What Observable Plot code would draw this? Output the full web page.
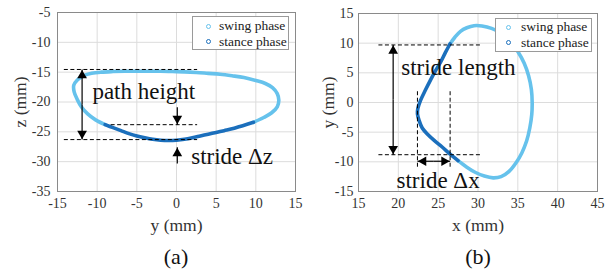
<!DOCTYPE html>
<html><head><meta charset="utf-8">
<script src="https://cdn.jsdelivr.net/npm/d3@7"></script>
<script src="https://cdn.jsdelivr.net/npm/@observablehq/plot@0.6"></script>
<style>
body{margin:0;background:#fff;}
#wrap{position:relative;width:616px;height:275px;font-family:"Liberation Serif","Times New Roman",serif;overflow:hidden;}
#wrap svg, #wrap svg text{font-family:"Liberation Serif","Times New Roman",serif;}
.panel{position:absolute;top:0;}
.legend{position:absolute;background:#fff;border:1px solid #9a9a9a;box-sizing:border-box;font-size:13.5px;color:#222;}
.legend .mk{position:absolute;width:3px;height:3px;border-radius:50%;border:1px solid;}
.legend .lb{position:absolute;white-space:nowrap;line-height:16px;}
.cap{position:absolute;font-size:22px;color:#111;transform:translate(-50%,-50%);white-space:nowrap;}
</style></head>
<body>
<div id="wrap">
  <div id="pa" class="panel" style="left:0"></div>
  <div id="pb" class="panel" style="left:308px"></div>
</div>
<script>
// ---------- data ----------
const ticksA_x = [-15,-10,-5,0,5,10,15];
const ticksA_z = [-35,-30,-25,-20,-15,-10,-5];
const ticksB_x = [15,20,25,30,35,40,45];
const ticksB_y = [-15,-10,-5,0,5,10,15];
const legendLabels = ["swing phase","stance phase"];
const captions = ["(a)","(b)"];

// panel (a): [y, z] in mm
const swingA = [[9.7,-23.4],[11,-22.6],[12,-21.8],[12.7,-20.8],[12.9,-19.7],[12.7,-18.6],[12.1,-17.6],[11.2,-16.9],[10,-16.4],[8.5,-15.9],[7,-15.6],[5.5,-15.35],[4,-15.2],[2.5,-15.05],[1,-14.95],[-0.5,-14.9],[-2,-14.85],[-3.5,-14.85],[-5,-14.85],[-6.5,-14.85],[-8,-14.9],[-9.5,-15.0],[-10.7,-15.2],[-11.7,-15.6],[-12.5,-16.3],[-12.95,-17.2],[-12.9,-18.3],[-12.5,-19.6],[-12.0,-20.8],[-11.2,-22.0],[-10.2,-23.0],[-9,-23.8]];
const stanceA = [[-9,-23.8],[-8,-24.3],[-7,-24.8],[-6,-25.3],[-5,-25.7],[-4,-26.0],[-3,-26.25],[-2,-26.4],[-1,-26.45],[0,-26.4],[1,-26.25],[2,-26.0],[3,-25.7],[4,-25.4],[5,-25.1],[6,-24.8],[7,-24.5],[8,-24.1],[9,-23.7],[9.7,-23.4]];

// panel (b): [x, y] in mm
const swingB = [[27.5,-9.8],[28.6,-10.9],[29.7,-11.8],[30.8,-12.4],[31.9,-12.7],[32.9,-12.5],[33.9,-11.6],[34.8,-10.1],[35.5,-8.5],[36.1,-6.5],[36.5,-4.3],[36.75,-2.0],[36.8,0],[36.7,2.2],[36.35,4.5],[35.8,6.6],[35.0,8.6],[34.0,10.4],[32.9,11.7],[31.7,12.5],[30.5,12.9],[29.5,12.95],[28.6,12.6],[27.8,12.0],[27.1,11.0],[26.5,9.9]];
const stanceB = [[26.5,9.9],[25.9,8.4],[25.3,6.8],[24.6,5.2],[24.0,3.7],[23.4,2.1],[22.8,0.4],[22.45,-1.0],[22.4,-1.9],[22.6,-3.0],[23.0,-4.3],[23.7,-5.4],[24.5,-6.4],[25.5,-7.5],[26.5,-8.7],[27.5,-9.8]];

// annotations (data units)
const dashA = [{x1:-14.2,x2:2.6,y1:-14.55,y2:-14.55},{x1:-8.3,x2:2.6,y1:-23.8,y2:-23.8},{x1:-14.2,x2:2.6,y1:-26.3,y2:-26.3}];
const arrowsA = [{x1:-11.9,y1:-20.4,x2:-11.9,y2:-14.55,dir:"up"},{x1:-11.9,y1:-20.4,x2:-11.9,y2:-26.3,dir:"down"},{x1:0.1,y1:-20.9,x2:0.1,y2:-23.8,dir:"down"},{x1:0.1,y1:-30.3,x2:0.1,y2:-27.6,dir:"up"}];
const textA = [{x:-10.6,y:-18.2,t:"path height"},{x:1.85,y:-29.1,t:"stride Δz"}];

const dashB = [{x1:17.5,x2:30.3,y1:9.7,y2:9.7},{x1:17.5,x2:30.3,y1:-8.8,y2:-8.8},{x1:22.4,x2:22.4,y1:1.9,y2:-10.9},{x1:26.5,x2:26.5,y1:1.9,y2:-10.9}];
const arrowsB = [{x1:19.35,y1:0.5,x2:19.35,y2:9.7,dir:"up"},{x1:19.35,y1:0.5,x2:19.35,y2:-8.8,dir:"down"},{x1:24.45,y1:-9.9,x2:22.4,y2:-9.9,dir:"left"},{x1:24.45,y1:-9.9,x2:26.5,y2:-9.9,dir:"right"}];
const textB = [{x:20.36,y:5.96,t:"stride length"},{x:19.77,y:-13.2,t:"stride Δx"}];

// ---------- styles ----------
const SWING = "#66c2ec";
const STANCE = "#1b6fbc";
const FONT = '"Liberation Serif","Times New Roman",serif';

function heads(arrows){
  const off = {up:[0,6,0],down:[0,-6,180],left:[6,0,270],right:[-6,0,90]};
  return ["up","down","left","right"].map(dir => Plot.dot(arrows.filter(a=>a.dir===dir), {
    x:"x2", y:"y2", symbol:"triangle", r:3.6, fill:"#000", stroke:"none",
    rotate: off[dir][2], dx: off[dir][0], dy: off[dir][1]
  }));
}

function panel({xd, yd, xt, yt, swing, stance, dash, arrows, texts, xlabel, ylabel, ml, mr, mt, ylabDx, yPad}){
  return Plot.plot({
    width:308, height:240, marginLeft:ml, marginRight:mr, marginTop:mt, marginBottom:240-191,
    x:{domain:xd}, y:{domain:yd},
    style:{fontFamily:FONT, fontSize:"14px", color:"#333", background:"#fff", overflow:"visible"},
    marks:[
      Plot.gridX(xt, {stroke:"#dcdcdc", strokeOpacity:1}),
      Plot.gridY(yt, {stroke:"#dcdcdc", strokeOpacity:1}),
      Plot.frame({stroke:"#8a8a8a"}),
      Plot.axisX(xt, {tickSize:0, tickPadding:7, tickFormat:d=>String(d), label:null, fill:"#333", fontSize:14}),
      Plot.axisY(yt, {tickSize:0, tickPadding:yPad, tickFormat:d=>String(d), label:null, fill:"#333", fontSize:14}),
      Plot.text([xlabel], {text:d=>d, frameAnchor:"bottom", lineAnchor:"middle", textAnchor:"middle", dy:34, fontSize:17.5, fill:"#333"}),
      Plot.text([ylabel], {text:d=>d, frameAnchor:"left", lineAnchor:"middle", textAnchor:"middle", rotate:-90, dx:ylabDx, fontSize:17.5, fill:"#333"}),
      Plot.line(swing, {x:d=>d[0], y:d=>d[1], stroke:SWING, strokeWidth:3.6, curve:"catmull-rom"}),
      Plot.line(stance, {x:d=>d[0], y:d=>d[1], stroke:STANCE, strokeWidth:3.6, curve:"catmull-rom"}),
      Plot.link(dash, {x1:"x1", y1:"y1", x2:"x2", y2:"y2", stroke:"#000", strokeWidth:1, strokeDasharray:"4,2.5"}),
      Plot.link(arrows, {x1:"x1", y1:"y1", x2:"x2", y2:"y2", stroke:"#000", strokeWidth:1.2}),
      ...heads(arrows),
      Plot.text(texts, {x:"x", y:"y", text:"t", textAnchor:"start", lineAnchor:"middle", fontSize:23, fill:"#111"})
    ]
  });
}

document.getElementById("pa").append(panel({
  xd:[-15,15], yd:[-35,-5], xt:ticksA_x, yt:ticksA_z, swing:swingA, stance:stanceA,
  dash:dashA, arrows:arrowsA, texts:textA, xlabel:"y (mm)", ylabel:"z (mm)",
  ml:57, mr:13, mt:12, ylabDx:-37, yPad:7
}));
document.getElementById("pb").append(panel({
  xd:[15,45], yd:[-15,15], xt:ticksB_x, yt:ticksB_y, swing:swingB, stance:stanceB,
  dash:dashB, arrows:arrowsB, texts:textB, xlabel:"x (mm)", ylabel:"y (mm)",
  ml:50, mr:19, mt:13, ylabDx:-30, yPad:5
}));

// legends (HTML overlays)
function legend(left, top, w, h, mkX, txX, rows){
  const box = document.createElement("div");
  box.className = "legend";
  Object.assign(box.style, {left:left+"px", top:top+"px", width:w+"px", height:h+"px"});
  legendLabels.forEach((lab, i) => {
    const cy = rows[i] - top - 1;
    const mk = document.createElement("div");
    mk.className = "mk";
    Object.assign(mk.style, {left:(mkX-left-3.5)+"px", top:(cy-2.5)+"px", borderColor: i===0?SWING:STANCE});
    const lb = document.createElement("div");
    lb.className = "lb"; lb.textContent = lab;
    Object.assign(lb.style, {left:(txX-left-1)+"px", top:(cy-8)+"px"});
    box.append(mk, lb);
  });
  document.getElementById("wrap").append(box);
}
legend(192, 16, 97, 34, 208, 219, [26, 41.7]);
legend(495, 18, 97, 34, 508, 521, [27, 42.7]);

captions.forEach((c, i) => {
  const d = document.createElement("div");
  d.className = "cap"; d.textContent = c;
  d.style.left = (i===0?176:478)+"px"; d.style.top = "257px";
  document.getElementById("wrap").append(d);
});
</script>
</body></html>
